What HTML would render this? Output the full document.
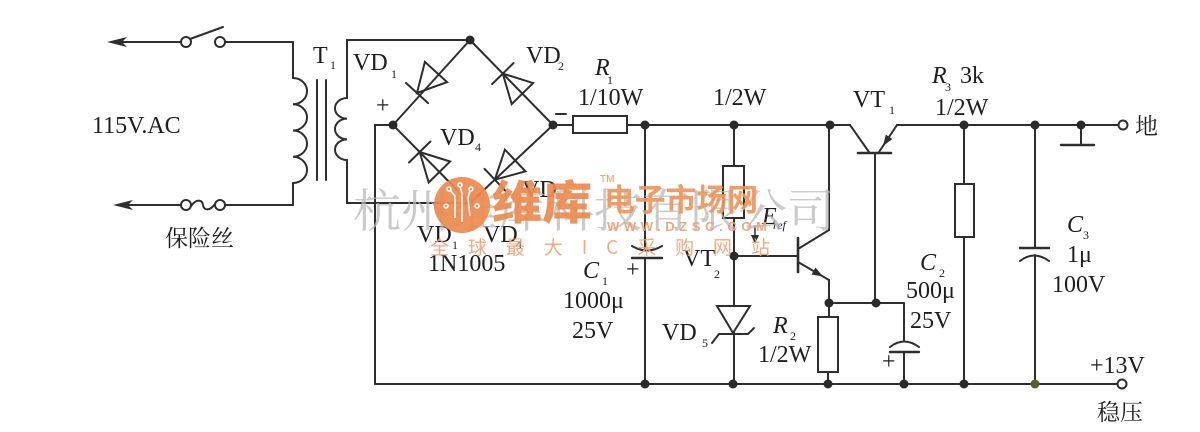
<!DOCTYPE html>
<html>
<head>
<meta charset="utf-8">
<style>
html,body{margin:0;padding:0;background:#fff;}
svg{display:block;}
.t{font-family:"Liberation Serif","Noto Serif CJK SC",serif;fill:#1e1e1e;font-size:24px;}
.i{font-style:italic;}
.s{font-family:"Liberation Serif",serif;fill:#1e1e1e;font-size:12px;}
.cjk{font-family:"Liberation Serif","Noto Serif CJK SC",serif;fill:#1e1e1e;font-size:23px;}
</style>
</head>
<body>
<svg width="1200" height="432" viewBox="0 0 1200 432" xmlns="http://www.w3.org/2000/svg">
<rect width="1200" height="432" fill="#fff"/>
<g stroke="#2e2e2e" stroke-width="2" fill="none" stroke-linecap="round">
  <!-- primary top -->
  <line x1="120" y1="42" x2="181" y2="42"/>
  <line x1="190" y1="39" x2="223" y2="27"/>
  <line x1="225" y1="42" x2="293" y2="42"/>
  <line x1="293" y1="42" x2="293" y2="78"/>
  <path d="M293,78 a14,13.1 0 0 1 0,26.25 a14,13.1 0 0 1 0,26.25 a14,13.1 0 0 1 0,26.25 a14,13.1 0 0 1 0,26.25"/>
  <line x1="293" y1="183" x2="293" y2="205"/>
  <line x1="293" y1="205" x2="225" y2="205"/>
  <path d="M191,206 C196,199 202,199 203,205 C204,211 210,211 215,204"/>
  <line x1="181" y1="205" x2="125" y2="205"/>
  <!-- core -->
  <line x1="317" y1="80" x2="317" y2="180"/>
  <line x1="326" y1="80" x2="326" y2="180"/>
  <!-- secondary -->
  <line x1="347" y1="40" x2="347" y2="98"/>
  <path d="M347,98 a12,10.33 0 0 0 0,20.67 a12,10.33 0 0 0 0,20.67 a12,10.33 0 0 0 0,20.67"/>
  <line x1="347" y1="160" x2="347" y2="203"/>
  <line x1="347" y1="203" x2="470" y2="203"/>
  <line x1="347" y1="40" x2="470" y2="40"/>
  <!-- bridge -->
  <line x1="470" y1="40" x2="393" y2="125"/>
  <line x1="470" y1="40" x2="553" y2="125"/>
  <line x1="393" y1="125" x2="470" y2="203"/>
  <line x1="553" y1="125" x2="470" y2="203"/>
  <!-- diodes -->
  <polygon points="417,93 447.1,82.1 424.9,61.9"/>
  <line x1="428.1" y1="103.1" x2="405.9" y2="82.9"/>
  <polygon points="502.8,73.6 533.1,83.1 511.7,104.1"/>
  <line x1="513.5" y1="63.1" x2="492.1" y2="84.1"/>
  <polygon points="419.7,152 450.1,161.5 428.7,182.5"/>
  <line x1="430.4" y1="141.5" x2="409" y2="162.5"/>
  <polygon points="494.8,179.7 525.5,171.4 504.9,149.6"/>
  <line x1="505.1" y1="190.6" x2="484.5" y2="168.8"/>
  <!-- left rail -->
  <polyline points="393,125 375,125 375,384"/>
  <!-- minus sign -->
  <line x1="556" y1="114" x2="566" y2="114"/>
  <!-- R1 -->
  <line x1="553" y1="125" x2="573" y2="125"/>
  <rect x="573" y="116" width="54" height="17"/>
  <line x1="627" y1="125" x2="850" y2="125"/>
  <!-- VT1 -->
  <line x1="850" y1="125" x2="869" y2="152"/>
  <line x1="858" y1="153" x2="891" y2="153" stroke-width="2.6"/>
  <line x1="879" y1="152" x2="897" y2="125"/>
  <line x1="875" y1="153" x2="875" y2="303"/>
  <line x1="897" y1="125" x2="1118" y2="125"/>
  <!-- ground -->
  <line x1="1081" y1="125" x2="1081" y2="145"/>
  <line x1="1061" y1="145" x2="1094" y2="145" stroke-width="2.4"/>
  <!-- C1 -->
  <line x1="645" y1="125" x2="645" y2="250"/>
  <path d="M632,246 Q647,255 662,246"/>
  <line x1="632" y1="258" x2="662" y2="258" stroke-width="2.4"/>
  <line x1="645" y1="258" x2="645" y2="384"/>
  <!-- ref resistor & VD5 -->
  <line x1="734" y1="125" x2="734" y2="166"/>
  <rect x="723" y="166" width="21" height="52"/>
  <line x1="734" y1="218" x2="734" y2="384"/>
  <polygon points="717,306 750,306 733,333" fill="#fff"/>
  <path d="M712,343 L719,334 L748,334 L754,328"/>
  <!-- VT2 -->
  <line x1="734" y1="256" x2="798" y2="256"/>
  <line x1="798" y1="238" x2="798" y2="272" stroke-width="2.6"/>
  <line x1="798" y1="249" x2="829" y2="230"/>
  <line x1="829" y1="230" x2="829" y2="125"/>
  <line x1="798" y1="262" x2="829" y2="280"/>
  <line x1="829" y1="280" x2="829" y2="317"/>
  <!-- R2 -->
  <rect x="818" y="317" width="20" height="55"/>
  <line x1="828" y1="372" x2="828" y2="384"/>
  <!-- C2 -->
  <line x1="829" y1="303" x2="904" y2="303"/>
  <line x1="904" y1="303" x2="904" y2="341"/>
  <path d="M890,347 Q904,336 919,347"/>
  <line x1="890" y1="352" x2="919" y2="352" stroke-width="2.4"/>
  <line x1="904" y1="352" x2="904" y2="384"/>
  <!-- R3 -->
  <line x1="964" y1="125" x2="964" y2="184"/>
  <rect x="955" y="184" width="19" height="53"/>
  <line x1="964" y1="237" x2="964" y2="384"/>
  <!-- C3 -->
  <line x1="1035" y1="125" x2="1035" y2="248"/>
  <line x1="1020" y1="248" x2="1049" y2="248" stroke-width="2.4"/>
  <path d="M1020,261 Q1034,250 1049,261"/>
  <line x1="1035" y1="255" x2="1035" y2="384"/>
  <!-- bottom rail -->
  <line x1="375" y1="384" x2="1118" y2="384"/>
  <!-- ref arrow -->
  <line x1="755" y1="226" x2="755" y2="238" stroke-width="1.5"/>
</g>
<!-- arrows -->
<g fill="#2e2e2e">
  <polygon points="107,42 127,37 122,42 127,47"/>
  <polygon points="113,205 133,200 128,205 133,210"/>
  <polygon points="883,146 892.4,139 885.8,134.6"/>
  <polygon points="823,276.5 811.5,274.5 815.5,267.5"/>
  <polygon points="755,244 751,235 759,235"/>
</g>
<!-- open circles -->
<g fill="#fff" stroke="#2e2e2e" stroke-width="2">
  <circle cx="186" cy="42" r="5"/>
  <circle cx="220" cy="42" r="5"/>
  <circle cx="186" cy="205" r="5"/>
  <circle cx="220" cy="205" r="5"/>
  <circle cx="1123" cy="125" r="4.5"/>
  <circle cx="1122" cy="384" r="4.5"/>
</g>
<!-- junction dots -->
<g fill="#2a2a2a">
  <circle cx="470" cy="40" r="4.5"/>
  <circle cx="393" cy="125" r="4.5"/>
  <circle cx="553" cy="125" r="4.5"/>
  <circle cx="470" cy="203" r="4"/>
  <circle cx="645" cy="125" r="4.5"/>
  <circle cx="734" cy="125" r="4.5"/>
  <circle cx="830" cy="125" r="4.5"/>
  <circle cx="964" cy="125" r="4.5"/>
  <circle cx="1035" cy="125" r="4.5"/>
  <circle cx="1081" cy="125" r="4.5"/>
  <circle cx="734" cy="256" r="4.5"/>
  <circle cx="829" cy="303" r="4.5"/>
  <circle cx="876" cy="303" r="4.5"/>
  <circle cx="645" cy="384" r="4.5"/>
  <circle cx="733" cy="384" r="4.5"/>
  <circle cx="828" cy="384" r="4.5"/>
  <circle cx="904" cy="384" r="4.5"/>
  <circle cx="964" cy="384" r="4.5"/>
  <circle cx="1035" cy="384" r="4.5" fill="#55602a"/>
</g>
<!-- labels -->
<text class="t" x="313" y="63" font-size="21">T</text><text class="s" x="330" y="69">1</text>
<text class="t" x="92" y="133">115V.AC</text>
<text class="cjk" x="165" y="246">保险丝</text>
<text class="t" x="353" y="70">VD</text><text class="s" x="391" y="78">1</text>
<text class="t" x="526" y="63">VD</text><text class="s" x="558" y="70">2</text>
<text class="t i" x="595" y="75">R</text><text class="s" x="607" y="84">1</text>
<text class="t" x="578" y="105">1/10W</text>
<text class="t" x="440" y="145">VD</text><text class="s" x="475" y="151">4</text>
<text class="t" x="376" y="113" font-size="20">+</text>
<text class="t" x="522" y="197" fill="#555">VD</text>
<text class="t" x="417" y="242">VD</text><text class="s" x="452" y="249">1</text>
<text class="t" x="483" y="242">VD</text><text class="s" x="516" y="248">4</text>
<text class="t" x="428" y="271">1N1005</text>
<text class="t i" x="583" y="278">C</text><text class="s" x="602" y="285">1</text>
<text class="t" x="626" y="277" font-size="17">+</text>
<text class="t" x="563" y="308">1000μ</text>
<text class="t" x="572" y="338">25V</text>
<text class="t" x="683" y="266">VT</text><text class="s" x="714" y="278">2</text>
<text class="t" x="662" y="340">VD</text><text class="s" x="702" y="347">5</text>
<text class="t i" x="773" y="333">R</text><text class="s" x="790" y="340">2</text>
<text class="t" x="758" y="362">1/2W</text>
<text class="t" x="713" y="105">1/2W</text>
<text class="t i" x="762" y="224" font-size="16">E</text><text class="s i" x="773" y="229" font-size="11">ref</text>
<text class="t" x="853" y="107">VT</text><text class="s" x="889" y="114">1</text>
<text class="t i" x="932" y="83">R</text><text class="s" x="945" y="91">3</text>
<text class="t" x="960" y="83">3k</text>
<text class="t" x="935" y="115">1/2W</text>
<text class="cjk" x="1135" y="134" font-size="24">地</text>
<text class="t i" x="920" y="270">C</text><text class="s" x="939" y="277">2</text>
<text class="t" x="906" y="298">500μ</text>
<text class="t" x="910" y="328">25V</text>
<text class="t" x="882" y="369" font-size="17">+</text>
<text class="t i" x="1067" y="232">C</text><text class="s" x="1083" y="239">3</text>
<text class="t" x="1067" y="262">1μ</text>
<text class="t" x="1052" y="292">100V</text>
<text class="t" x="1090" y="373">+13V</text>
<text class="cjk" x="1097" y="420" font-size="24">稳压</text>
<!-- watermark -->
<text x="353" y="227" font-family="Noto Serif CJK SC, serif" font-size="46" fill="#b8b8b8" fill-opacity="0.75" textLength="482" lengthAdjust="spacingAndGlyphs">杭州维库科技有限公司</text>
<g opacity="0.92">
  <circle cx="462" cy="205" r="28" fill="#ee8a50"/>
  <g stroke="#fff" stroke-width="1.6" fill="none">
    <path d="M450,190 L455,196 L455,218"/>
    <path d="M460,186 L462,194 L462,222"/>
    <path d="M470,190 L468,198 L470,216"/>
    <circle cx="449" cy="189" r="2"/>
    <circle cx="460" cy="185" r="2"/>
    <circle cx="471" cy="189" r="2"/>
    <circle cx="446" cy="206" r="2"/>
    <circle cx="477" cy="206" r="2"/>
  </g>
  <text x="492" y="219" font-family="Noto Sans CJK SC, sans-serif" font-weight="900" font-size="46" fill="#ee8a50" textLength="100" lengthAdjust="spacingAndGlyphs">维库</text>
  <text x="604" y="211" font-family="Noto Sans CJK SC, sans-serif" font-weight="700" font-size="31" fill="#f0955c" textLength="154" lengthAdjust="spacingAndGlyphs">电子市场网</text>
  <text x="600" y="182" font-family="Liberation Sans, sans-serif" font-size="10" fill="#ee8a50">TM</text>
  <text x="607" y="231" font-family="Liberation Sans, sans-serif" font-weight="700" font-size="13" fill="#f0a070" textLength="160" lengthAdjust="spacing">WWW.DZSC.COM</text>
  <text x="430" y="254" font-family="Noto Sans CJK SC, sans-serif" font-size="19" fill="#f2a478" textLength="340" lengthAdjust="spacing">全球最大IC采购网站</text>
</g>
</svg>
</body>
</html>
